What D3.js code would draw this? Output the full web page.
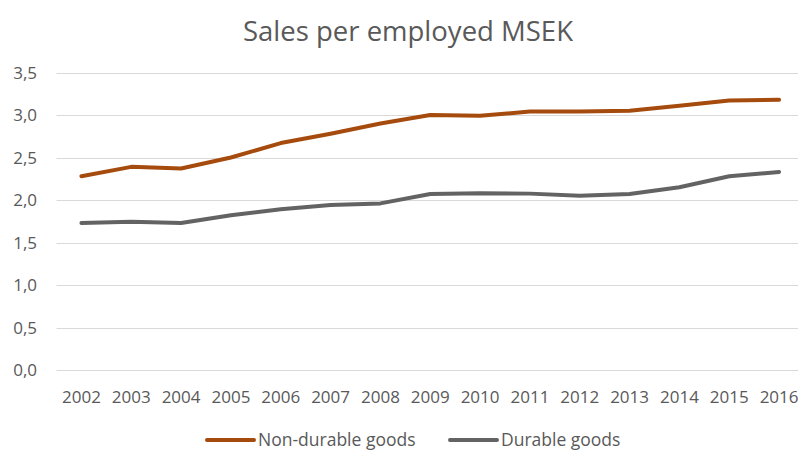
<!DOCTYPE html>
<html><head><meta charset="utf-8">
<script src="https://cdn.jsdelivr.net/npm/d3@7"></script>
<style>body{margin:0;background:#fff;} svg{display:block;}</style>
</head><body>
<svg id="chart" width="798" height="450"></svg>
<script>
const years = ["2002","2003","2004","2005","2006","2007","2008","2009","2010","2011","2012","2013","2014","2015","2016"];
const nonDurable = [2.28,2.39,2.37,2.50,2.67,2.78,2.90,3.00,2.99,3.04,3.04,3.05,3.11,3.17,3.18];
const durable = [1.73,1.745,1.73,1.82,1.89,1.94,1.96,2.07,2.08,2.075,2.05,2.07,2.15,2.28,2.33];
const yTicks = [0,0.5,1,1.5,2,2.5,3,3.5];
const seriesNames = ["Non-durable goods","Durable goods"];
const colors = ["#A64B0E","#636363"];
const title = "Sales per employed MSEK";

const svg = d3.select("#chart");
const font = "Open Sans, sans-serif";
const x = d3.scaleBand().domain(years).range([56.5, 804]).padding(0);
const cx = d => x(d) + x.bandwidth()/2;
const y = d3.scaleLinear().domain([0,3.5]).range([370, 72.5]);

// gridlines
svg.append("g").selectAll("line").data(yTicks).join("line")
  .attr("x1", 56.5).attr("x2", 798)
  .attr("y1", d => Math.round(y(d))+0.5).attr("y2", d => Math.round(y(d))+0.5)
  .attr("stroke", "#D9D9D9").attr("stroke-width", 1.2);

// y axis labels
const fmt = d => d3.format(".1f")(d).replace(".", ",");
svg.append("g").selectAll("text").data(yTicks).join("text")
  .attr("x", 37).attr("y", d => y(d)).attr("dy", "0.36em")
  .attr("text-anchor", "end").attr("font-family", font).attr("font-size", 17)
  .attr("fill", "#595959").text(fmt);

// x axis labels
svg.append("g").selectAll("text").data(years).join("text")
  .attr("x", d => cx(d)).attr("y", 403)
  .attr("text-anchor", "middle").attr("font-family", font).attr("font-size", 17)
  .attr("fill", "#595959").text(d => d);

// lines
const line = d3.line().x((d,i) => cx(years[i])).y(d => y(d));
[nonDurable, durable].forEach((s, k) => {
  svg.append("path").datum(s).attr("d", line)
    .attr("fill", "none").attr("stroke", colors[k]).attr("stroke-width", 4)
    .attr("stroke-linecap", "round").attr("stroke-linejoin", "round");
});

// title
svg.append("text").attr("x", 408).attr("y", 41).attr("text-anchor", "middle")
  .attr("font-family", font).attr("font-size", 27.5).attr("fill", "#595959").text(title);

// legend
const legX = [207, 450];
seriesNames.forEach((n, k) => {
  const g = svg.append("g");
  g.append("line").attr("x1", legX[k]).attr("x2", legX[k]+47).attr("y1", 440).attr("y2", 440)
    .attr("stroke", colors[k]).attr("stroke-width", 4).attr("stroke-linecap", "round");
  g.append("text").attr("x", legX[k]+51).attr("y", 440).attr("dy", "0.36em")
    .attr("font-family", font).attr("font-size", 17.5).attr("fill", "#595959").text(n);
});
</script>
</body></html>
